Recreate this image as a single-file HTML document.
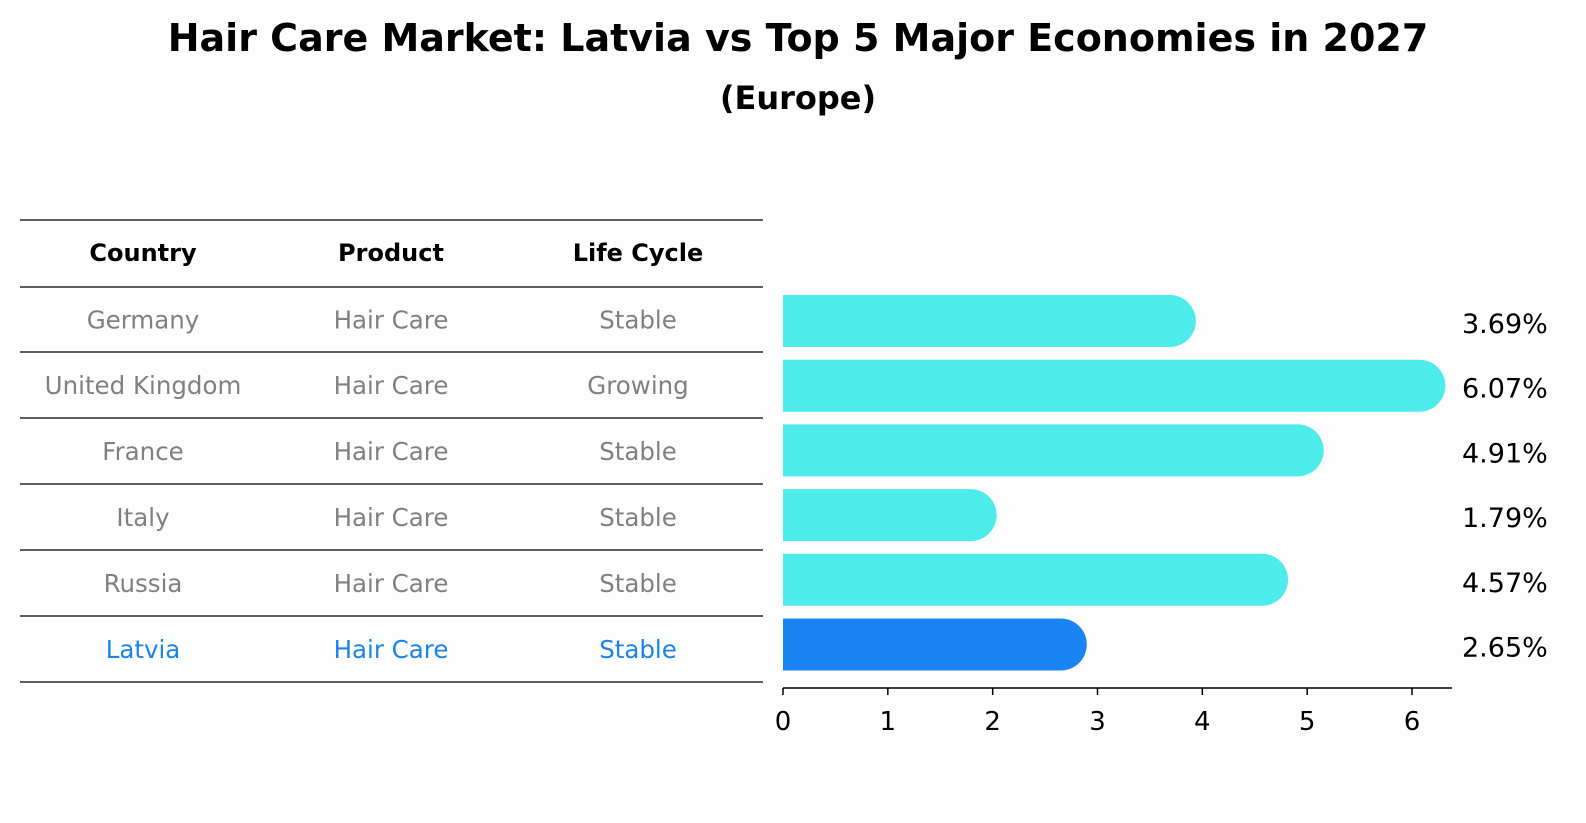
<!DOCTYPE html>
<html><head><meta charset="utf-8"><style>
body{margin:0;background:#fdfdfd;}
svg{display:block;font-family:"DejaVu Sans","Liberation Sans",sans-serif;}
</style></head><body>
<svg id="c" width="1586" height="823">
<text x="798" y="51" text-anchor="middle" font-size="38" font-weight="bold">Hair Care Market: Latvia vs Top 5 Major Economies in 2027</text>
<text x="798" y="109" text-anchor="middle" font-size="32" font-weight="bold">(Europe)</text>
<g id="tbl"></g>
<g id="bars"></g>
</svg>
<script>
const countries=["Germany","United Kingdom","France","Italy","Russia","Latvia"];
const products=["Hair Care","Hair Care","Hair Care","Hair Care","Hair Care","Hair Care"];
const lifecycles=["Stable","Growing","Stable","Stable","Stable","Stable"];
const values=[3.69,6.07,4.91,1.79,4.57,2.65];
const ticks=[0,1,2,3,4,5,6];
const NS="http://www.w3.org/2000/svg";
function mk(tag,attrs,parent){const e=document.createElementNS(NS,tag);for(const k in attrs)e.setAttribute(k,attrs[k]);parent.appendChild(e);return e;}
const tbl=document.getElementById('tbl'),bars=document.getElementById('bars');
const colX=[143,391,638];
const lineY=[220,287,352,418,484,550,616,682];
lineY.forEach(y=>{const l=mk('line',{x1:20,x2:763,y1:y,y2:y,stroke:'#000','stroke-width':1.2},tbl);

});
["Country","Product","Life Cycle"].forEach((h,i)=>{const t=mk('text',{x:colX[i],y:261,'text-anchor':'middle','font-size':24,'font-weight':'bold'},tbl);t.textContent=h;

});
countries.forEach((c,r)=>{const y=(lineY[r+1]+lineY[r+2])/2+9;const col=c==="Latvia"?'#1a84e8':'#808080';
[c,products[r],lifecycles[r]].forEach((v,i)=>{const t=mk('text',{x:colX[i],y:y,'text-anchor':'middle','font-size':24.5,fill:col},tbl);t.textContent=v;

});});
const x0=783,sc=(1412-783)/6;const X=v=>x0+v*sc;
const yc=i=>321+i*64.7;const h=52,r=26;
values.forEach((v,i)=>{const col=countries[i]==="Latvia"?'#1a84f4':'#4deceb';const top=yc(i)-h/2;
const p=mk('path',{d:`M${x0},${top} H${X(v)} A${r},${r} 0 0 1 ${X(v)},${top+h} H${x0} Z`,fill:col},bars);


const t=mk('text',{x:1462,y:yc(i)+12,'font-size':27},bars);t.textContent=v.toFixed(2)+'%';

});
const ax=mk('line',{x1:x0,x2:1452,y1:688,y2:688,stroke:'#000','stroke-width':1.5},bars);


ticks.forEach(v=>{const tk=mk('line',{x1:X(v),x2:X(v),y1:688,y2:695,stroke:'#000','stroke-width':1.5},bars);


const t=mk('text',{x:X(v),y:730,'text-anchor':'middle','font-size':26},bars);t.textContent=v;

});
</script>
</body></html>
